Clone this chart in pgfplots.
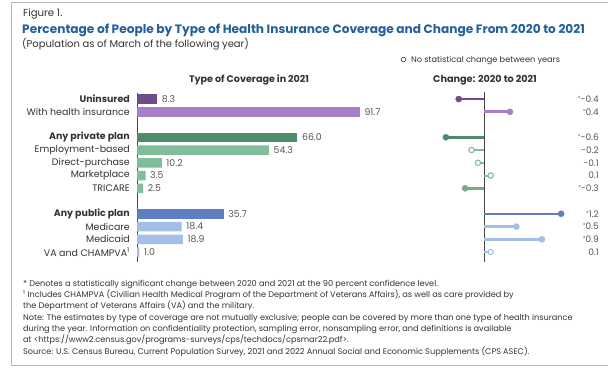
\documentclass[border=0pt]{standalone}
\usepackage{pgfplots}
\pgfplotsset{compat=1.18}
\usepackage{fontspec}
\setmainfont{Poppins}
\definecolor{txt}{HTML}{333333}
\definecolor{valgray}{HTML}{555555}
\definecolor{titleblue}{HTML}{23609B}
\definecolor{framegray}{HTML}{B5B5B5}
\definecolor{axgray}{HTML}{444444}
\definecolor{uninsured}{HTML}{6E4C8C}
\definecolor{withins}{HTML}{A67FC6}
\definecolor{privdark}{HTML}{4E8B6B}
\definecolor{privlight}{HTML}{80BE9A}
\definecolor{tricare}{HTML}{74AE88}
\definecolor{pubdark}{HTML}{5E7EC2}
\definecolor{publight}{HTML}{A4BFE6}
\newcommand{\sig}{\raisebox{2bp}{\fontsize{5.5}{5.5}\selectfont *}}
\newcommand{\fs}[1]{\fontsize{#1}{#1}\selectfont}
\pgfplotsset{
  stem/.style={draw=#1, line width=2.6bp, no marks},
  nsstem/.style={draw=#1, line width=2bp, no marks},
  sigdot/.style={only marks, mark=*, mark size=3.1bp, mark options={fill=#1, draw=#1, line width=0.3bp}},
  nsdot/.style={only marks, mark=*, mark size=2.7bp, mark options={fill=white, draw=#1, line width=1.1bp}}
}
\begin{document}
\begin{tikzpicture}[x=1bp,y=1bp]
\useasboundingbox (0,0) rectangle (608,-368);
\fill[white] (0,0) rectangle (608,-368);
\draw[framegray, line width=0.9bp] (608,-2) -- (11,-2) -- (11,-365.5) -- (608,-365.5);
% titles
\node[anchor=base west, inner sep=0, text=txt, font=\fs{10.2}] at (23,-16) {Figure 1.};
\node[anchor=base west, inner sep=0, text=titleblue, font=\bfseries\fs{12.2}] at (22,-33.5) {Percentage of People by Type of Health Insurance Coverage and Change From 2020 to 2021};
\node[anchor=base west, inner sep=0, text=txt, font=\fs{10}] at (22,-47) {(Population as of March of the following year)};
\draw[txt, line width=0.6bp] (403.5,-59.5) circle (2.3bp);
\node[anchor=base west, inner sep=0, text=txt, font=\fs{8.2}] at (411,-62.5) {No statistical change between years};
\node[anchor=base, inner sep=0, text=txt, font=\bfseries\fs{9.6}] at (249,-82.5) {Type of Coverage in 2021};
\node[anchor=base, inner sep=0, text=txt, font=\bfseries\fs{9.7}] at (485,-82.5) {Change: 2020 to 2021};
% left bar chart
\begin{axis}[at={(137bp,-93bp)}, anchor=north west, scale only axis,
  width=243bp, height=169bp, xmin=0, xmax=100, ymin=-12.78, ymax=0.47,
  xbar, bar width=9.5bp, bar shift=0pt,
  axis x line=none, axis y line*=left,
  y axis line style={-, draw=axgray, line width=0.9bp},
  ytick={0,-1,-3,-4,-5,-6,-7,-9,-10,-11,-12},
  yticklabels={{\bfseries Uninsured},With health insurance,{\bfseries Any private plan},Employment-based,Direct-purchase,Marketplace,TRICARE,{\bfseries Any public plan},Medicare,Medicaid,VA and CHAMPVA\textsuperscript{1}},
  major tick length=0pt,
  yticklabel style={font=\fs{9.5}, text=txt, inner sep=0pt, xshift=-7bp},
  nodes near coords, point meta=x,
  /pgf/number format/assume math mode=true,
  nodes near coords style={font=\fs{9.4}, text=valgray, anchor=west, inner sep=0pt, xshift=4.5bp,
    /pgf/number format/.cd, fixed, fixed zerofill, precision=1, assume math mode=true},
  clip=false]
\addplot[fill=uninsured, draw=none] coordinates {(8.3,0)};
\addplot[fill=withins, draw=none] coordinates {(91.7,-1)};
\addplot[fill=privdark, draw=none] coordinates {(66.0,-3)};
\addplot[fill=privlight, draw=none] coordinates {(54.3,-4) (10.2,-5) (3.5,-6) (2.5,-7)};
\addplot[fill=pubdark, draw=none] coordinates {(35.7,-9)};
\addplot[fill=publight, draw=none] coordinates {(18.4,-10) (18.9,-11) (1.0,-12)};
\end{axis}
% right lollipop chart
\begin{axis}[at={(420.3bp,-92bp)}, anchor=north west, scale only axis,
  width=178.6bp, height=170bp, xmin=-1.0, xmax=1.79, ymin=-12.78, ymax=0.55,
  axis x line=none, axis y line=middle,
  y axis line style={-, draw=axgray, line width=0.9bp},
  ytick=\empty, xtick=\empty, clip=false]
\addplot[stem=uninsured] coordinates {(0,0) (-0.4,0)};
\addplot[stem=withins] coordinates {(0,-1) (0.4,-1)};
\addplot[stem=privdark] coordinates {(0,-3) (-0.6,-3)};
\addplot[nsstem=privlight] coordinates {(0,-4) (-0.2,-4)};
\addplot[nsstem=privlight] coordinates {(0,-5) (-0.1,-5)};
\addplot[nsstem=privlight] coordinates {(0,-6) (0.1,-6)};
\addplot[stem=tricare] coordinates {(0,-7) (-0.3,-7)};
\addplot[stem=pubdark] coordinates {(0,-9) (1.2,-9)};
\addplot[stem=publight] coordinates {(0,-10) (0.5,-10)};
\addplot[stem=publight] coordinates {(0,-11) (0.9,-11)};
\addplot[nsstem=publight] coordinates {(0,-12) (0.1,-12)};
\addplot[sigdot=uninsured] coordinates {(-0.4,0)};
\addplot[sigdot=withins] coordinates {(0.4,-1)};
\addplot[sigdot=privdark] coordinates {(-0.6,-3)};
\addplot[nsdot=privlight] coordinates {(-0.2,-4) (-0.1,-5) (0.1,-6)};
\addplot[sigdot=tricare] coordinates {(-0.3,-7)};
\addplot[sigdot=pubdark] coordinates {(1.2,-9)};
\addplot[sigdot=publight] coordinates {(0.5,-10) (0.9,-11)};
\addplot[nsdot=publight] coordinates {(0.1,-12)};
\node[anchor=east, inner sep=0pt, text=valgray, font=\fs{9}] at (axis cs:1.79,0) {\sig-0.4};
\node[anchor=east, inner sep=0pt, text=valgray, font=\fs{9}] at (axis cs:1.79,-1) {\sig0.4};
\node[anchor=east, inner sep=0pt, text=valgray, font=\fs{9}] at (axis cs:1.79,-3) {\sig-0.6};
\node[anchor=east, inner sep=0pt, text=valgray, font=\fs{9}] at (axis cs:1.79,-4) {-0.2};
\node[anchor=east, inner sep=0pt, text=valgray, font=\fs{9}] at (axis cs:1.79,-5) {-0.1};
\node[anchor=east, inner sep=0pt, text=valgray, font=\fs{9}] at (axis cs:1.79,-6) {0.1};
\node[anchor=east, inner sep=0pt, text=valgray, font=\fs{9}] at (axis cs:1.79,-7) {\sig-0.3};
\node[anchor=east, inner sep=0pt, text=valgray, font=\fs{9}] at (axis cs:1.79,-9) {\sig1.2};
\node[anchor=east, inner sep=0pt, text=valgray, font=\fs{9}] at (axis cs:1.79,-10) {\sig0.5};
\node[anchor=east, inner sep=0pt, text=valgray, font=\fs{9}] at (axis cs:1.79,-11) {\sig0.9};
\node[anchor=east, inner sep=0pt, text=valgray, font=\fs{9}] at (axis cs:1.79,-12) {0.1};
\end{axis}
% footnotes
\foreach \i/\t in {0/{* Denotes a statistically significant change between 2020 and 2021 at the 90 percent confidence level.},
  1/{\textsuperscript{1} Includes CHAMPVA (Civilian Health Medical Program of the Department of Veterans Affairs), as well as care provided by},
  2/{the Department of Veterans Affairs (VA) and the military.},
  3/{Note: The estimates by type of coverage are not mutually exclusive; people can be covered by more than one type of health insurance},
  4/{during the year. Information on confidentiality protection, sampling error, nonsampling error, and definitions is available},
  5/{at <https://www2.census.gov/programs-surveys/cps/techdocs/cpsmar22.pdf>.},
  6/{Source: U.S. Census Bureau, Current Population Survey, 2021 and 2022 Annual Social and Economic Supplements (CPS ASEC).}}{
  \node[anchor=base west, inner sep=0, text=txt, font=\fs{8.2}] at (23,-286-11.35*\i) {\t};
}
\end{tikzpicture}
\end{document}
